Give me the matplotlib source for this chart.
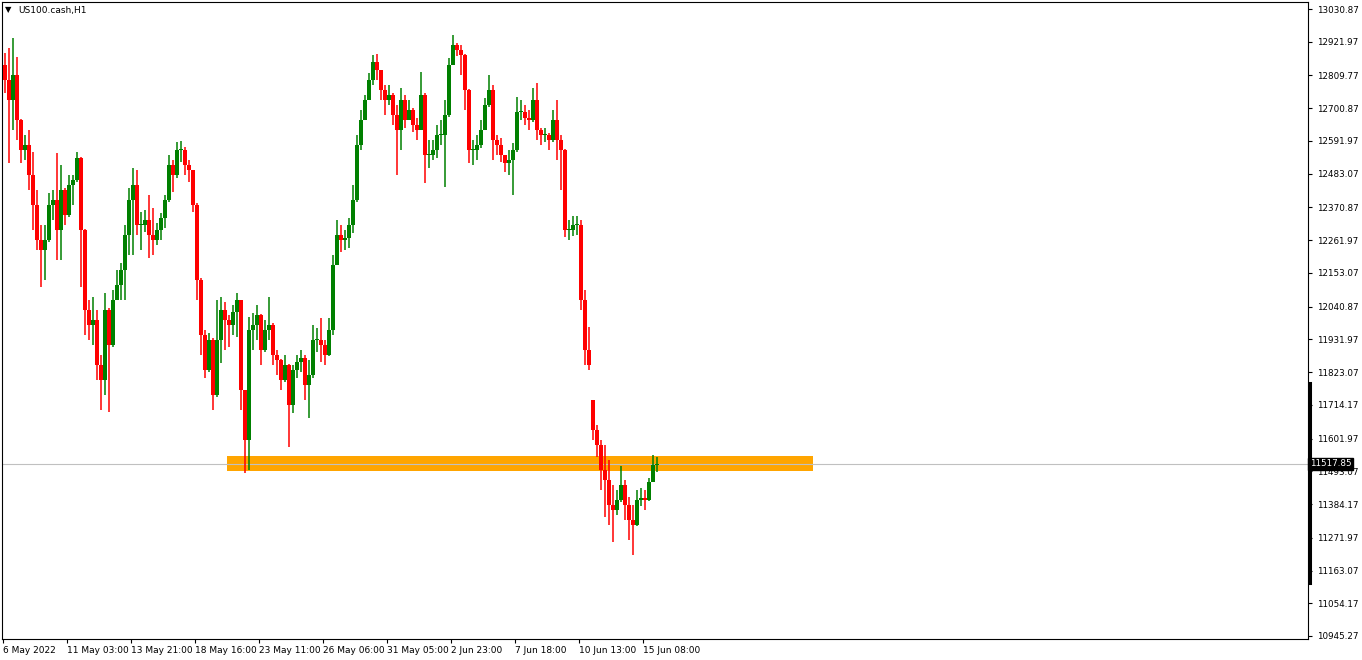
import numpy as np
import matplotlib
matplotlib.use("Agg")
import matplotlib.pyplot as plt
import matplotlib.transforms as mtransforms
from matplotlib.patches import Rectangle

symbol_title = "US100.cash,H1"
bar_hours = 4
first_open = 12845
gap_opens = {147: 11730}   # monday gap (10 Jun -> 13 Jun)

closes = [12795, 12728, 12811, 12662, 12562, 12578, 12479, 12379, 12262, 12229,
          12262, 12379, 12395, 12296, 12429, 12346, 12445, 12462, 12535, 12296,
          12030, 11980, 11996, 11847, 11797, 12030, 11913, 12063, 12113, 12163,
          12279, 12395, 12445, 12312, 12312, 12329, 12279, 12262, 12296, 12336,
          12395, 12512, 12479, 12562, 12562, 12512, 12495, 12379, 12129, 11947,
          11830, 11930, 11747, 11930, 12030, 11996, 11980, 12023, 12063, 11764,
          11597, 11963, 11980, 12013, 11897, 11963, 11980, 11880, 11863, 11797,
          11847, 11714, 11830, 11857, 11870, 11780, 11813, 11930, 11930, 11913,
          11880, 11963, 12179, 12279, 12262, 12269, 12312, 12395, 12578, 12662,
          12728, 12795, 12855, 12828, 12761, 12728, 12745, 12678, 12628, 12728,
          12662, 12695, 12645, 12628, 12745, 12545, 12545, 12562, 12612, 12612,
          12678, 12845, 12911, 12895, 12878, 12761, 12562, 12562, 12578, 12628,
          12712, 12761, 12595, 12578, 12545, 12519, 12529, 12562, 12688, 12688,
          12668, 12662, 12728, 12628, 12612, 12612, 12595, 12662, 12595, 12562,
          12296, 12296, 12312, 12312, 12063, 11897, 11847, 11630, 11581, 11497,
          11464, 11381, 11364, 11398, 11448, 11381, 11331, 11315, 11398, 11404,
          11398, 11458, 11514, 11517.85]

highs = [12885, 12901, 12934, 12871, 12665, 12612, 12628, 12555, 12429, 12312,
         12312, 12419, 12429, 12552, 12512, 12435, 12479, 12479, 12555, 12540,
         12300, 12063, 12073, 12030, 11880, 12086, 12035, 12096, 12163, 12186,
         12312, 12435, 12502, 12495, 12356, 12362, 12412, 12369, 12319, 12352,
         12412, 12545, 12529, 12588, 12592, 12572, 12529, 12495, 12385, 12136,
         11963, 11953, 11935, 12063, 12073, 12056, 12013, 12046, 12086, 12063,
         11764, 12006, 12020, 12046, 12015, 11996, 12073, 11985, 11897, 11865,
         11880, 11850, 11847, 11880, 11897, 11880, 11863, 11980, 11970, 12003,
         11930, 12003, 12213, 12329, 12312, 12296, 12336, 12445, 12612, 12695,
         12745, 12818, 12878, 12881, 12828, 12778, 12778, 12750, 12712, 12768,
         12745, 12728, 12700, 12668, 12821, 12750, 12595, 12595, 12645, 12662,
         12728, 12868, 12944, 12918, 12911, 12880, 12765, 12595, 12612, 12662,
         12735, 12811, 12778, 12612, 12602, 12545, 12562, 12585, 12738, 12728,
         12712, 12695, 12768, 12785, 12635, 12635, 12618, 12695, 12728, 12612,
         12565, 12329, 12342, 12342, 12329, 12096, 11973, 11730, 11647, 11597,
         11581, 11531, 11448, 11431, 11511, 11464, 11408, 11381, 11431, 11438,
         11431, 11471, 11547, 11541]

lows = [12751, 12519, 12628, 12595, 12519, 12529, 12429, 12296, 12229, 12106,
        12129, 12255, 12329, 12196, 12196, 12312, 12340, 12379, 12455, 12106,
        11947, 11930, 11913, 11797, 11697, 11747, 11690, 11905, 12063, 12063,
        12063, 12213, 12213, 12279, 12229, 12289, 12203, 12213, 12246, 12262,
        12302, 12390, 12422, 12469, 12522, 12479, 12455, 12356, 12063, 11880,
        11803, 11825, 11697, 11740, 11853, 11897, 11907, 11947, 11940, 11697,
        11488, 11497, 11897, 11930, 11847, 11890, 11930, 11847, 11813, 11764,
        11790, 11574, 11687, 11803, 11823, 11730, 11670, 11805, 11890, 11857,
        11847, 11875, 11947, 12179, 12223, 12229, 12236, 12286, 12390, 12562,
        12662, 12728, 12778, 12795, 12728, 12678, 12712, 12645, 12479, 12562,
        12635, 12662, 12622, 12595, 12628, 12452, 12502, 12529, 12535, 12578,
        12439, 12670, 12845, 12875, 12811, 12695, 12519, 12512, 12529, 12570,
        12628, 12705, 12529, 12545, 12522, 12489, 12479, 12412, 12555, 12662,
        12645, 12628, 12655, 12595, 12578, 12588, 12562, 12588, 12529, 12429,
        12272, 12262, 12276, 12279, 12030, 11847, 11830, 11597, 11541, 11431,
        11341, 11315, 11258, 11348, 11390, 11331, 11265, 11215, 11310, 11378,
        11364, 11395, 11458, 11490]

last_price = 11517.85
zone_hours = (224, 810)
zone_prices = (11494, 11544)
scale_bar = (11121.5, 11786.8)

price_ticks = [13030.87, 12921.97, 12809.77, 12700.87, 12591.97, 12483.07, 12370.87,
               12261.97, 12153.07, 12040.87, 11931.97, 11823.07, 11714.17, 11601.97,
               11493.07, 11384.17, 11271.97, 11163.07, 11054.17, 10945.27]
time_ticks = [0, 64, 128, 192, 256, 320, 384, 448, 512, 576, 640]
time_labels = ["6 May 2022", "11 May 03:00", "13 May 21:00", "18 May 16:00",
               "23 May 11:00", "26 May 06:00", "31 May 05:00", "2 Jun 23:00",
               "7 Jun 18:00", "10 Jun 13:00", "15 Jun 08:00"]

bull, bear = "#008000", "#ff0000"

fig = plt.figure(figsize=(13.62, 6.6), dpi=100)
ax = fig.add_axes([2 / 1362, 21 / 660, 1306 / 1362, 637 / 660])

opens = [first_open] + closes[:-1]
for k, o in gap_opens.items():
    opens[k] = o
opens = np.array(opens, dtype=float)
c = np.array(closes, dtype=float)
x = np.arange(len(c)) * bar_hours + bar_hours / 2
colors = [bull if cc >= oo else bear for oo, cc in zip(opens, c)]

ax.vlines(x, lows, highs, colors=colors, linewidth=1.1, zorder=3)
bottoms = np.minimum(opens, c)
heights = np.maximum(np.abs(c - opens), 3)
ax.bar(x, heights, bottom=bottoms, width=3.3, color=colors, linewidth=0, zorder=3)

# support zone + current price line
ax.add_patch(Rectangle((zone_hours[0], zone_prices[0]), zone_hours[1] - zone_hours[0],
                       zone_prices[1] - zone_prices[0], facecolor="#ffa500",
                       edgecolor="none", zorder=1))
ax.axhline(last_price, color="#c0c0c0", linewidth=0.8, zorder=2)

ax.set_xlim(-1, 1305)
ax.set_ylim(10935.29, 13054.16)

ax.yaxis.tick_right()
ax.set_yticks(price_ticks)
ax.set_yticklabels([f"{p:.2f}" for p in price_ticks])
ax.tick_params(axis="y", direction="out", length=3, width=0.8, pad=3.5,
               labelsize=6.3, colors="black")
ax.set_xticks(time_ticks)
ax.set_xticklabels(time_labels, ha="left")
ax.tick_params(axis="x", direction="out", length=3, width=0.8, pad=2,
               labelsize=6.5)

for sp in ax.spines.values():
    sp.set_linewidth(0.8)
    sp.set_color("black")

# price tag on the right scale
trans = mtransforms.blended_transform_factory(ax.transAxes, ax.transData)
ax.plot([1.0015, 1.0015], scale_bar, color="black", linewidth=2.2,
        transform=trans, clip_on=False, zorder=4)
ax.text(1.0012, last_price, f"{last_price:.2f}", transform=trans, ha="left",
        va="center", fontsize=6.3, color="white", zorder=6, clip_on=False,
        bbox=dict(boxstyle="square,pad=0.2", facecolor="black", edgecolor="black"))

# header
fig.text(18 / 1362, 1 - 10 / 660, symbol_title, fontsize=6.5, va="center", ha="left")
fig.text(8 / 1362, 1 - 10 / 660, "\u25bc", fontsize=6, va="center", ha="center")

fig.savefig("out.png", dpi=100, facecolor="white")
